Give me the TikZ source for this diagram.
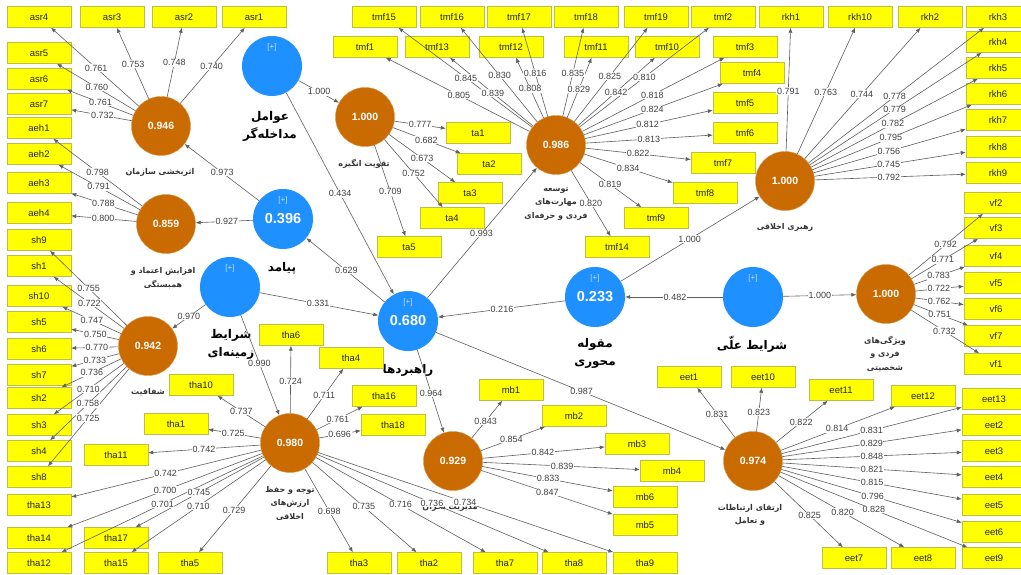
\documentclass[tikz,border=0pt]{standalone}
\usepackage{fontspec}
\setmainfont{Liberation Sans}
\newfontfamily\farsi[Script=Arabic]{DejaVu Sans}
\usetikzlibrary{arrows.meta,calc}
\TeXXeTstate=1
\newcommand{\fa}[1]{{\farsi\beginR#1\endR}}
\definecolor{lvbrown}{RGB}{201,107,0}
\definecolor{lvblue}{RGB}{30,144,255}
\definecolor{indyellow}{RGB}{255,255,0}
\definecolor{indedge}{RGB}{190,190,70}
\definecolor{pathgrey}{RGB}{95,95,95}
\definecolor{valgrey}{RGB}{64,64,64}
\pgfdeclarelayer{fg}
\pgfsetlayers{main,fg}
% loadings of one construct: #1 = construct, #2 = box/value/label x/label y
\newcommand{\loadings}[2]{%
  \foreach \b/\v/\lx/\ly in {#2}{%
    \draw[ld] (#1) -- (\b);
    \begin{pgfonlayer}{fg}
      \node[val] (v-\b) at ($(#1)!(\lx,\ly)!(\b)$) {\v};
    \end{pgfonlayer}
  }}

\begin{document}
\begin{tikzpicture}[x=1pt,y=-1pt,
  ind/.style={draw=indedge,fill=indyellow,minimum width=64pt,minimum height=21pt,inner sep=0pt,font=\fontsize{9.5}{10}\selectfont,text=black!85},
  lv/.style={circle,fill=lvbrown,draw=lvbrown!70!white,minimum size=59pt,inner sep=0pt,text=white,font=\bfseries\fontsize{10.5}{11}\selectfont},
  sv/.style={circle,fill=lvblue,minimum size=60pt,inner sep=0pt,text=white,font=\bfseries\fontsize{14.5}{15}\selectfont},
  plus/.style={text=white!75!lvblue,font=\fontsize{8}{8}\selectfont},
  lvlab/.style={align=center,font=\farsi\bfseries\fontsize{8}{13.5}\selectfont,text=black!80},
  svlab/.style={align=center,font=\farsi\bfseries\fontsize{12}{18}\selectfont},
  ld/.style={draw=pathgrey,line width=0.6pt,-{Latex[length=5pt,width=4pt]}},
  val/.style={fill=white,inner sep=0.6pt,text=valgrey,font=\fontsize{9}{9}\selectfont}]

\fill[white] (0,0) rectangle (1021,574);
\path[use as bounding box] (0,0) rectangle (1021,574);

% constructs
\node[sv] (mod) at (272,66) {};
\node[sv] (pay) at (283,219) {0.396};
\node[sv] (zam) at (230,287) {};
\node[sv] (rah) at (408,321) {0.680};
\node[sv] (mhv) at (595,297) {0.233};
\node[sv] (ell) at (753,297) {};
\foreach \n in {mod,pay,zam,rah,mhv,ell}
  \node[plus] (\n-p) at ([yshift=19pt]\n.center) {[+]};

\node[lv] (asr) at (161,126) {0.946};
\node[lv] (aeh) at (166,224) {0.859};
\node[lv] (sh) at (148,346) {0.942};
\node[lv] (tha) at (290,443) {0.980};
\node[lv] (mb) at (453,461) {0.929};
\node[lv] (ta) at (365,117) {1.000};
\node[lv] (tmf) at (556,145) {0.986};
\node[lv] (rkh) at (785,181) {1.000};
\node[lv] (vf) at (886,294) {1.000};
\node[lv] (eet) at (753,461) {0.974};

% construct names
\node[svlab] (mod-t) at (270,126) {\fa{عوامل}\\\fa{مداخله^^^^200cگر}};
\node[svlab] (pay-t) at (282,268) {\fa{پیامد}};
\node[svlab] (zam-t) at (231,344) {\fa{شرایط}\\\fa{زمینه^^^^200cای}};
\node[svlab] (rah-t) at (408,370) {\fa{راهبردها}};
\node[svlab] (mhv-t) at (595,353) {\fa{مقوله}\\\fa{محوری}};
\node[svlab] (ell-t) at (752,344) {\fa{شرایط علّی}};

\node[lvlab] (asr-t) at (160,172) {\fa{اثربخشی سازمان}};
\node[lvlab] (aeh-t) at (163,278) {\fa{افزایش اعتماد و}\\\fa{همبستگی}};
\node[lvlab] (sh-t) at (148,392) {\fa{شفافیت}};
\node[lvlab] (tha-t) at (290,503) {\fa{توجه و حفظ}\\\fa{ارزش^^^^200cهای}\\\fa{اخلاقی}};
\node[lvlab] (mb-t) at (450,507) {\fa{مدیریت بحران}};
\node[lvlab] (ta-t) at (364,164) {\fa{تقویت انگیزه}};
\node[lvlab] (tmf-t) at (556,204) {\fa{توسعه}\\\fa{مهارت^^^^200cهای}\\\fa{فردی و حرفه^^^^200cای}};
\node[lvlab] (rkh-t) at (785,227) {\fa{رهبری اخلاقی}};
\node[lvlab] (vf-t) at (885,354) {\fa{ویژگی^^^^200cهای}\\\fa{فردی و}\\\fa{شخصیتی}};
\node[lvlab] (eet-t) at (750,515) {\fa{ارتقای ارتباطات}\\\fa{و تعامل}};

% indicators
\foreach \n/\x/\y in {asr4/39/17,asr3/112/17,asr2/184/17,asr1/254/17,
    tmf15/384/17,tmf16/452/17,tmf17/519/17,tmf18/586/17,tmf19/656/17,tmf2/723/17,
    rkh1/791/17,rkh10/860/17,rkh2/930/17,rkh3/998/17,
    asr5/39/53,asr6/39/79,asr7/39/104,aeh1/39/128,aeh2/39/154,aeh3/39/183,aeh4/39/213,
    sh9/39/240,sh1/39/266,sh10/39/296,sh5/39/322,sh6/39/349,sh7/39/375,sh2/39/398,
    sh3/39/425,sh4/39/451,sh8/39/477,tha13/39/505,tha14/39/538,tha12/39/563,
    tha17/116/538,tha15/116/563,tha5/190/563,tha11/116/455,tha1/176/424,tha10/201/385,
    tha6/291/335,tha4/351/358,tha16/384/396,tha18/393/425,
    tha3/359/563,tha2/429/563,tha7/505/563,tha8/574/563,tha9/645/563,
    mb1/511/390,mb2/574/416,mb3/637/444,mb4/672/471,mb6/645/497,mb5/645/525,
    ta1/478/133,ta2/489/164,ta3/470/193,ta4/452/218,ta5/409/247,
    tmf1/365/47,tmf13/437/47,tmf12/511/47,tmf11/596/47,tmf10/667/47,tmf3/745/47,
    tmf4/752/73,tmf5/745/103,tmf6/745/133,tmf7/723/163,tmf8/705/193,tmf9/656/218,tmf14/617/247,
    rkh4/998/42,rkh5/998/68,rkh6/998/94,rkh7/998/120,rkh8/998/147,rkh9/998/173,
    vf2/996/203,vf3/996/228,vf4/996/256,vf5/996/283,vf6/996/309,vf7/996/336,vf1/996/364,
    eet1/689/377,eet10/763/377,eet11/841/390,eet12/923/396,eet13/994/399,eet2/994/425,
    eet3/994/451,eet4/994/477,eet5/994/505,eet6/994/532,eet9/994/558,eet7/854/558,eet8/923/558}
  \node[ind] (\n) at (\x,\y) {\n};

% inner model
\foreach \s/\t/\v/\lx/\ly in {mod/ta/1.000/318/94, mod/rah/0.434/340/194,
    pay/asr/0.973/222/173, pay/aeh/0.927/227/223, rah/pay/0.629/346/271,
    zam/rah/0.331/318/305, zam/sh/0.970/189/317, zam/tha/0.990/255/365,
    rah/tmf/0.993/482/234, mhv/rah/0.216/502/309, mhv/rkh/1.000/690/240,
    ell/mhv/0.482/675/297, ell/vf/1.000/820/296, rah/mb/0.964/431/393,
    rah/eet/0.987/581/393}{
  \draw[ld] (\s) -- (\t);
  \begin{pgfonlayer}{fg}
    \node[val] (v-\s-\t) at ($(\s)!(\lx,\ly)!(\t)$) {\v};
  \end{pgfonlayer}
}

% outer model
\loadings{asr}{asr4/0.761/96/68, asr3/0.753/133/64, asr2/0.748/175/63, asr1/0.740/212/67,
  asr5/0.760/96/89, asr6/0.761/100/104, asr7/0.732/102/117}
\loadings{aeh}{aeh1/0.798/97/173, aeh2/0.791/98/188, aeh3/0.788/103/205, aeh4/0.800/103/221}
\loadings{sh}{sh9/0.755/88/289, sh1/0.722/88/305, sh10/0.747/91/322, sh5/0.750/95/336,
  sh6/0.770/97/349, sh7/0.733/95/361, sh2/0.736/92/373, sh3/0.710/89/390,
  sh4/0.758/88/404, sh8/0.725/88/418}
\loadings{ta}{ta1/0.777/420/126, ta2/0.682/426/141, ta3/0.673/421/160, ta4/0.752/413/174,
  ta5/0.709/390/192}
\loadings{tmf}{tmf15/0.845/465/79, tmf1/0.805/458/97, tmf13/0.839/493/93, tmf16/0.830/498/77,
  tmf17/0.816/535/73, tmf12/0.808/530/89, tmf18/0.835/573/73, tmf11/0.829/579/89,
  tmf19/0.825/610/76, tmf10/0.842/617/93, tmf2/0.810/645/78, tmf3/0.818/653/96,
  tmf4/0.824/653/111, tmf5/0.812/648/126, tmf6/0.813/649/140, tmf7/0.822/638/155,
  tmf8/0.834/628/169, tmf9/0.819/609/186, tmf14/0.820/590/204}
\loadings{rkh}{rkh1/0.791/787/91, rkh10/0.763/826/92, rkh2/0.744/862/94, rkh3/0.778/895/97,
  rkh4/0.779/895/110, rkh5/0.782/893/124, rkh6/0.795/891/138, rkh7/0.756/889/152,
  rkh8/0.745/889/166, rkh9/0.792/889/178}
\loadings{vf}{vf2/0.792/946/245, vf3/0.771/943/260, vf4/0.783/939/277, vf5/0.722/939/289,
  vf6/0.762/939/302, vf7/0.751/939/316, vf1/0.732/944/332}
\loadings{eet}{eet1/0.831/717/414, eet10/0.823/758/412, eet11/0.822/802/423, eet12/0.814/838/431,
  eet13/0.831/872/432, eet2/0.829/872/446, eet3/0.848/872/458, eet4/0.821/872/470,
  eet5/0.815/872/484, eet6/0.796/872/498, eet9/0.828/873/512, eet8/0.820/842/513,
  eet7/0.825/808/517}
\loadings{mb}{mb1/0.843/487/422, mb2/0.854/512/441, mb3/0.842/543/455, mb4/0.839/562/468,
  mb6/0.833/548/479, mb5/0.847/547/494}
\loadings{tha}{tha10/0.737/241/412, tha1/0.725/233/435, tha11/0.742/204/449, tha13/0.742/166/475,
  tha14/0.700/165/490, tha12/0.701/163/505, tha17/0.745/199/493, tha15/0.710/199/507,
  tha5/0.729/234/510, tha6/0.724/290/381, tha4/0.711/324/395, tha16/0.761/338/419,
  tha18/0.696/340/436, tha3/0.698/328/512, tha2/0.735/363/508, tha7/0.716/400/506,
  tha8/0.736/432/503, tha9/0.734/465/503}

\end{tikzpicture}
\end{document}
